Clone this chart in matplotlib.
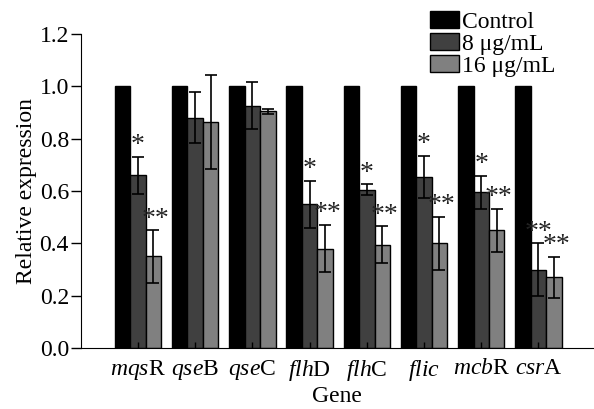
import numpy as np
import matplotlib
matplotlib.use('Agg')
import matplotlib.pyplot as plt

plt.rcParams['font.family'] = ['Liberation Serif', 'DejaVu Serif']
plt.rcParams['mathtext.fontset'] = 'custom'
plt.rcParams['mathtext.rm'] = 'Liberation Serif'
plt.rcParams['mathtext.it'] = 'Liberation Serif:italic'

genes = [r'$\it{mqs}$R', r'$\it{qse}$B', r'$\it{qse}$C', r'$\it{flh}$D',
         r'$\it{flh}$C', r'$\it{flic}$', r'$\it{mcb}$R', r'$\it{csr}$A']
series = ['Control', '8 \u03bcg/mL', '16 \u03bcg/mL']
control = [1.0, 1.0, 1.0, 1.0, 1.0, 1.0, 1.0, 1.0]
low = [0.66, 0.88, 0.925, 0.55, 0.605, 0.655, 0.595, 0.30]
low_err = [0.07, 0.097, 0.09, 0.09, 0.02, 0.08, 0.064, 0.10]
high = [0.35, 0.865, 0.905, 0.38, 0.395, 0.40, 0.45, 0.27]
high_err = [0.10, 0.18, 0.01, 0.09, 0.07, 0.10, 0.083, 0.078]
low_sig = ['*', '', '', '*', '*', '*', '*', '**']
high_sig = ['**', '', '', '**', '**', '**', '**', '**']

colors = ['#000000', '#404040', '#808080']
fs = 17

fig = plt.figure(figsize=(5.94, 4.09), dpi=100)
ax = fig.add_axes([0.136, 0.149, 0.862, 0.768])

x = np.arange(1, len(genes) + 1)
w = 0.27
ekw = dict(ecolor='black', elinewidth=1.2, capsize=4, capthick=1.2)
ax.bar(x - w, control, w, color=colors[0], edgecolor='black', lw=1, label=series[0])
ax.bar(x, low, w, yerr=low_err, color=colors[1], edgecolor='black', lw=1,
       error_kw=ekw, label=series[1])
ax.bar(x + w, high, w, yerr=high_err, color=colors[2], edgecolor='black', lw=1,
       error_kw=ekw, label=series[2])

for i in range(len(genes)):
    if low_sig[i]:
        ax.text(x[i], low[i] + low_err[i] + 0.018, low_sig[i], ha='center', va='baseline',
                fontsize=20, color='#222222')
    if high_sig[i]:
        ax.text(x[i] + w + 0.04, high[i] + high_err[i] + 0.018, high_sig[i], ha='center',
                va='baseline', fontsize=20, color='#222222')

ax.set_xlim(0, 8.95)
ax.set_ylim(0, 1.2)
ax.set_yticks(np.arange(0, 1.21, 0.2))
ax.set_yticklabels(['%.1f' % v for v in np.arange(0, 1.21, 0.2)], fontsize=fs)
ax.set_xticks(x)
ax.set_xticklabels(genes, fontsize=fs)
ax.tick_params(axis='y', direction='out', length=7, width=1, pad=1.5)
ax.tick_params(axis='x', direction='in', length=4, width=1, pad=7)
ax.spines['top'].set_visible(False)
ax.spines['right'].set_visible(False)
ax.set_ylabel('Relative expression', fontsize=fs, labelpad=2)
ax.set_xlabel('Gene', fontsize=fs, labelpad=2)

fig.legend(loc='upper right', bbox_to_anchor=(0.958, 1.008), frameon=False, fontsize=fs,
           handlelength=1.25, handleheight=0.75, handletextpad=0.1, labelspacing=0.0,
           borderaxespad=0.2)

fig.savefig('out.png', dpi=100)
